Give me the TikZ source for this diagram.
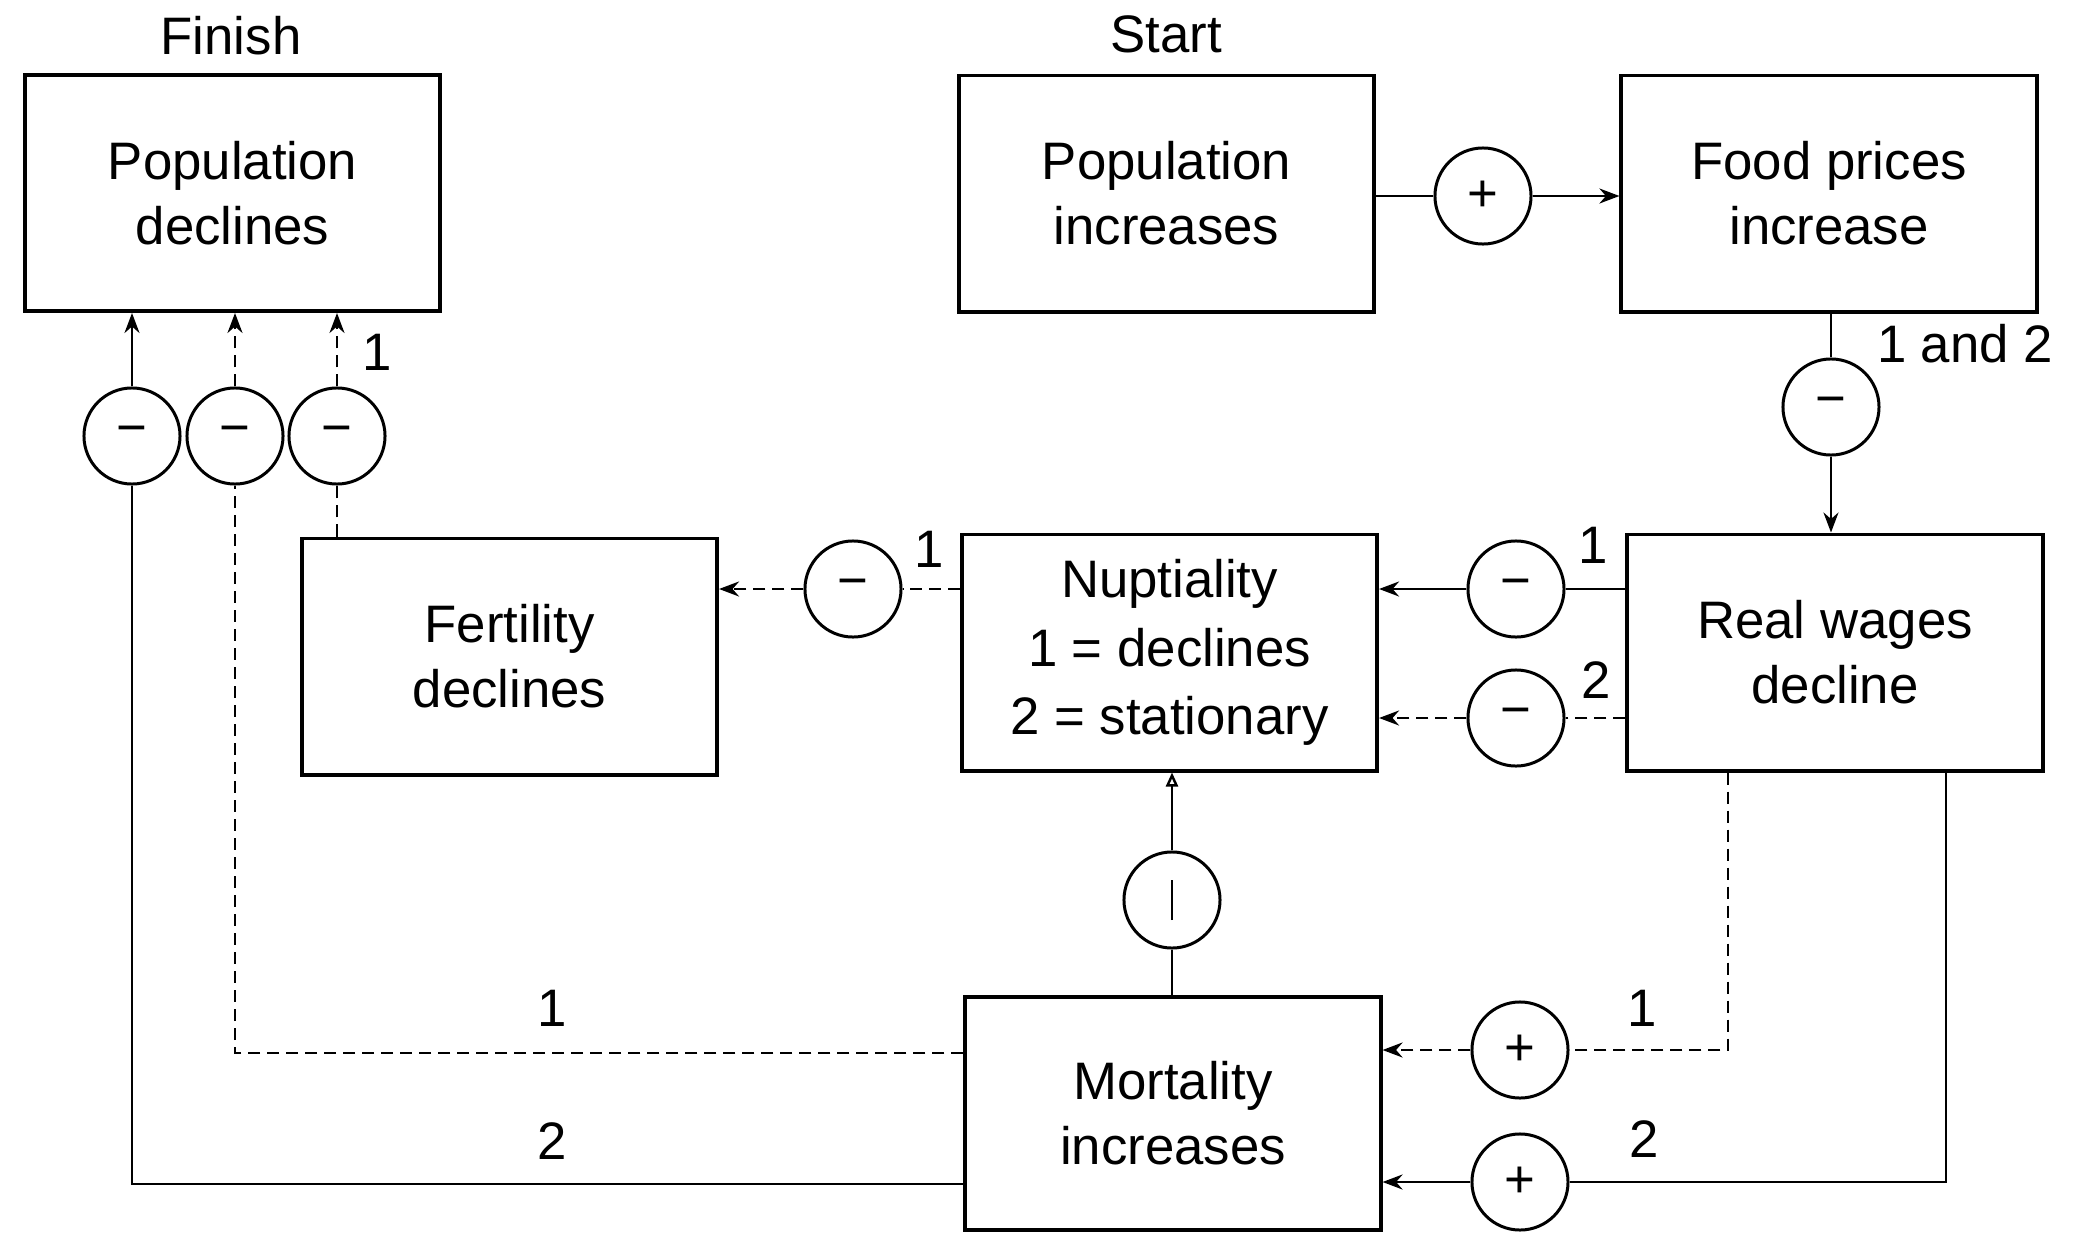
\documentclass[tikz,border=0pt]{standalone}
\usepackage{fontspec}
\setmainfont{Liberation Sans}
\usetikzlibrary{arrows.meta}
\begin{document}
\begin{tikzpicture}[x=0.01cm,y=-0.01cm,
  box/.style={draw, line width=1.1pt, minimum width=4.15cm, minimum height=2.36cm, align=center, inner sep=0pt, font=\fontsize{15}{18.5}\selectfont},
  sign/.style={draw, circle, line width=0.85pt, minimum size=0.96cm, inner sep=0pt, font=\fontsize{15}{18}\selectfont},
  conn/.style={line width=0.7pt},
  dsh/.style={conn, dash pattern=on 0.12cm off 0.07cm},
  tip/.style={-{Stealth[length=0.2cm,width=0.15cm]}},
  otip/.style={-{Triangle[open,length=0.14cm,width=0.12cm]}},
  lbl/.style={font=\fontsize{15}{18}\selectfont, inner sep=0pt},
]
\useasboundingbox (0,0) rectangle (2074,1233);

% boxes
\node[box] (pd) at (232.5,193) {Population\\declines};
\node[box] (pi) at (1166.5,193.5) {Population\\increases};
\node[box] (fp) at (1829,193.5) {Food prices\\increase};
\node[box] (fe) at (509.5,656.5) {Fertility\\declines};
\node[box, font=\fontsize{15}{19.5}\selectfont] (nu) at (1169.5,652.5) {Nuptiality\\1 = declines\\2 = stationary};
\node[box] (rw) at (1835,652.5) {Real wages\\decline};
\node[box, minimum height=2.33cm] (mo) at (1173,1113.5) {Mortality\\increases};

% headings
\node[lbl] (fin) at (231,36) {Finish};
\node[lbl] (st) at (1166,34) {Start};

% sign circles
\node[sign] (c1) at (1483,196) {+};
\node[sign] (c2) at (1831,407) {−};
\node[sign] (c3) at (1516,589) {−};
\node[sign] (c4) at (1516,718) {−};
\node[sign] (c5) at (853,589) {−};
\node[sign] (c6) at (132,436) {−};
\node[sign] (c7) at (235,436) {−};
\node[sign] (c8) at (337,436) {−};
\node[sign] (c9) at (1172,900) {\rule[-0.2cm]{0.7pt}{0.4cm}};
\node[sign] (c10) at (1520,1050) {+};
\node[sign] (c11) at (1520,1182) {+};

% corner coordinates
\coordinate (k1) at (1728,1050);
\coordinate (k2) at (1946,1182);
\coordinate (k3) at (235,1053);
\coordinate (k4) at (132,1184);

% connectors
\draw[conn] (c1.west -| pi.east) -- (c1.west);
\draw[conn,tip] (c1.east) -- (c1.east -| fp.west);

\draw[conn] (c2.north |- fp.south) -- (c2.north);
\draw[conn,tip] (c2.south) -- (c2.south |- rw.north);

\draw[conn] (c3.east -| rw.west) -- (c3.east);
\draw[conn,tip] (c3.west) -- (c3.west -| nu.east);

\draw[dsh] (c4.east -| rw.west) -- (c4.east);
\draw[dsh,tip] (c4.west) -- (c4.west -| nu.east);

\draw[dsh] (c5.east -| nu.west) -- (c5.east);
\draw[dsh,tip] (c5.west) -- (c5.west -| fe.east);

\draw[dsh] (c8.south |- fe.north) -- (c8.south);
\draw[dsh,tip] (c8.north) -- (c8.north |- pd.south);

\draw[conn] (c9.south |- mo.north) -- (c9.south);
\draw[conn,otip] (c9.north) -- (c9.north |- nu.south);

\draw[dsh] (k1 |- rw.south) -- (k1) -- (c10.east);
\draw[dsh,tip] (c10.west) -- (c10.west -| mo.east);

\draw[conn] (k2 |- rw.south) -- (k2) -- (c11.east);
\draw[conn,tip] (c11.west) -- (c11.west -| mo.east);

\draw[dsh] (k3 -| mo.west) -- (k3) -- (c7.south);
\draw[dsh,tip] (c7.north) -- (c7.north |- pd.south);

\draw[conn] (k4 -| mo.west) -- (k4) -- (c6.south);
\draw[conn,tip] (c6.north) -- (c6.north |- pd.south);

% path labels
\node[lbl] (l1) at (1965,344) {1 and 2};
\node[lbl] (l2) at (1593,545) {1};
\node[lbl] (l3) at (1596,680) {2};
\node[lbl] (l4) at (929,549) {1};
\node[lbl] (l5) at (377,352) {1};
\node[lbl] (l6) at (1642,1008) {1};
\node[lbl] (l7) at (1644,1139) {2};
\node[lbl] (l8) at (552,1008) {1};
\node[lbl] (l9) at (552,1141) {2};
\end{tikzpicture}
\end{document}
